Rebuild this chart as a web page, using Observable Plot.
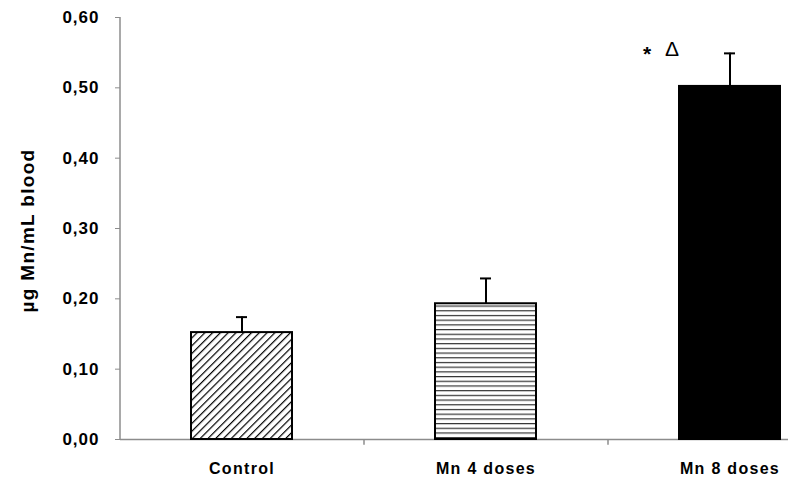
<!DOCTYPE html>
<html>
<head>
<meta charset="utf-8">
<script src="https://cdn.jsdelivr.net/npm/d3@7"></script>
<script src="https://cdn.jsdelivr.net/npm/@observablehq/plot@0.6"></script>
<style>
  html, body { margin: 0; padding: 0; background: #fff; overflow: hidden; }
  #chart svg { display: block; }
  #chart svg g[aria-label="y-axis tick label"] text { letter-spacing: 1px; }
  #chart svg g[aria-label="x-axis tick label"] text { letter-spacing: 1.3px; }
  #chart svg g.ylabel text { letter-spacing: 1.3px; }
</style>
</head>
<body>
<div id="chart"></div>
<script>
const categories = ["Control", "Mn 4 doses", "Mn 8 doses"];
const means = [0.152, 0.193, 0.502];
const errors = [0.022, 0.036, 0.047];
const fills = ["url(#hatchDiag)", "url(#hatchHoriz)", "black"];
const yTicks = [0, 0.1, 0.2, 0.3, 0.4, 0.5, 0.6];
const annotation = [{group: "Mn 8 doses", mark: "*", offset: -83}, {group: "Mn 8 doses", mark: "Δ", offset: -58}];
const yLabel = "µg Mn/mL blood";

const data = categories.map((c, i) => ({group: c, mean: means[i], err: errors[i], top: means[i] + errors[i], fill: fills[i]}));
const separators = categories.slice(0, -1);

const fmt = v => v.toFixed(2).replace(".", ",");
const font = "'Liberation Sans', Arial, sans-serif";
const topOf = g => data.find(e => e.group === g).top;

const chart = Plot.plot({
  width: 788,
  height: 485,
  marginLeft: 120,
  marginRight: 0,
  marginTop: 17,
  marginBottom: 46,
  style: {fontFamily: font, background: "white", overflow: "hidden"},
  x: {domain: categories, range: [120, 852], paddingInner: 0.586, paddingOuter: 0.293, align: 0.5},
  y: {domain: [0, 0.6], ticks: yTicks},
  marks: [
    Plot.ruleY([0], {stroke: "#8c8c8c", strokeWidth: 1.5}),
    Plot.ruleX([categories[0]], {x: d => d, dx: -122, y1: 0, y2: 0.6, stroke: "#8c8c8c", strokeWidth: 1.5}),
    Plot.barY(data, {x: "group", y: "mean", fill: "fill", stroke: "black", strokeWidth: 2}),
    Plot.ruleX(data, {x: "group", y1: "mean", y2: "top", stroke: "black", strokeWidth: 2}),
    Plot.tickY(data, {x: "group", y: "top", stroke: "black", strokeWidth: 2, insetLeft: 45, insetRight: 45}),
    Plot.ruleX(separators, {x: d => d, dx: 122, y1: 0, y2: -0.008, stroke: "#8c8c8c", strokeWidth: 1.5}),
    Plot.text(annotation.filter(d => d.mark === "*"), {x: "group", y: d => topOf(d.group), text: "mark", dx: -83, dy: 1, fontSize: 21, fontWeight: "bold", fill: "black"}),
    Plot.text(annotation.filter(d => d.mark === "Δ"), {x: "group", y: d => topOf(d.group), text: "mark", dx: -58, dy: -4, fontSize: 21, fontWeight: "normal", fill: "black"}),
    Plot.axisY({ticks: yTicks, tickFormat: fmt, tickSize: 5, tickPadding: 16, stroke: "#8c8c8c", fontSize: 17, fontWeight: "bold", fill: "black", label: null}),
    Plot.axisX({tickSize: 0, tickPadding: 23, fontSize: 16, fontWeight: "bold", fill: "black", label: null}),
    Plot.text([yLabel], {frameAnchor: "left", textAnchor: "middle", text: d => d, rotate: -90, dx: -93, dy: 2, fontSize: 19, fontWeight: "bold", fill: "black", className: "ylabel"})
  ]
});

const svg = d3.select(chart);
const defs = svg.insert("defs", ":first-child");
const pd = defs.append("pattern").attr("id", "hatchDiag").attr("patternUnits", "userSpaceOnUse")
  .attr("width", 5.5).attr("height", 5.5).attr("patternTransform", "rotate(45)");
pd.append("rect").attr("width", 5.5).attr("height", 5.5).attr("fill", "white");
pd.append("line").attr("x1", 0).attr("y1", 0).attr("x2", 0).attr("y2", 5.5).attr("stroke", "black").attr("stroke-width", 2.4);
const ph = defs.append("pattern").attr("id", "hatchHoriz").attr("patternUnits", "userSpaceOnUse")
  .attr("width", 8).attr("height", 4.7);
ph.append("rect").attr("width", 8).attr("height", 4.7).attr("fill", "white");
ph.append("line").attr("x1", 0).attr("y1", 0.6).attr("x2", 8).attr("y2", 0.6).attr("stroke", "#333").attr("stroke-width", 1.2);

document.getElementById("chart").appendChild(chart);
</script>
</body>
</html>
